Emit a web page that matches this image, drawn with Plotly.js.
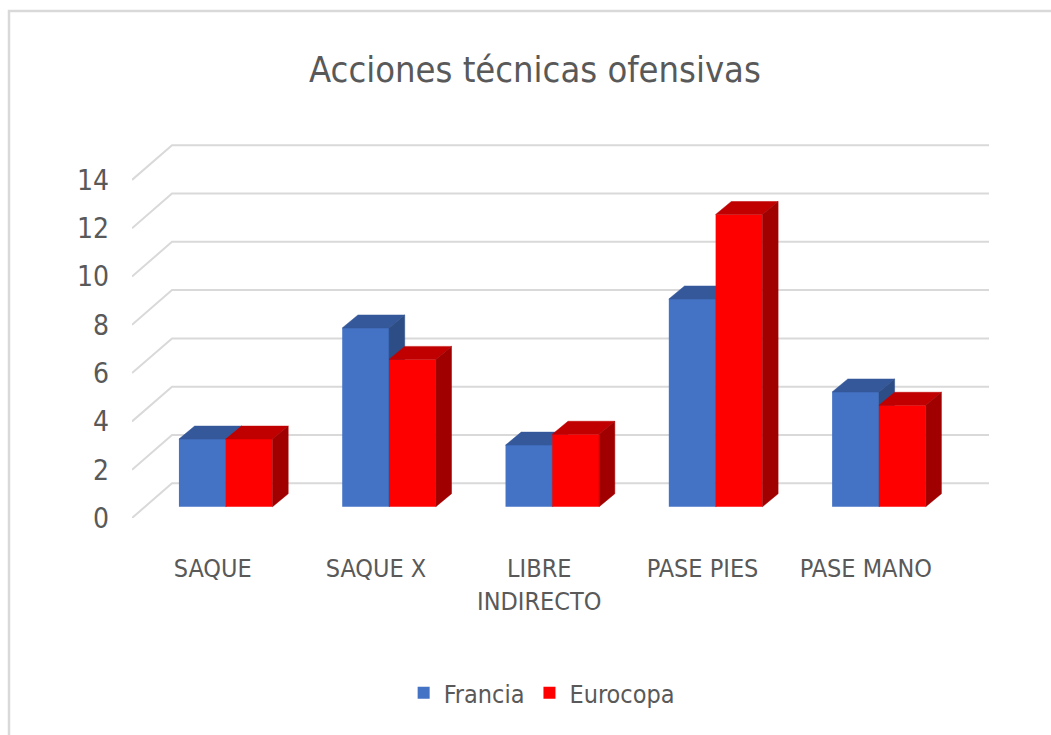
<!DOCTYPE html>
<html>
<head>
<meta charset="utf-8">
<script src="https://cdn.plot.ly/plotly-3.0.1.min.js"></script>
<style>
  body { margin: 0; background: #fff; }
  #chart { width: 1051px; height: 735px; }
</style>
</head>
<body>
<div id="chart"></div>
<script>
// data
const categories = ['SAQUE', 'SAQUE X', 'LIBRE<br>INDIRECTO', 'PASE PIES', 'PASE MANO'];
const francia = [2.8, 7.4, 2.55, 8.6, 4.75];
const eurocopa = [2.8, 6.1, 3.0, 12.1, 4.2];
const yTicks = [0, 2, 4, 6, 8, 10, 12, 14];

// fake 3D geometry (in axis units)
const BW = 0.2866;              // width of one bar front
const DX = 0.096, DY = 0.538;   // bar depth
const WALL_DX = 0.165, WALL_DY = 0.969;   // back wall offset from bar front plane
const FRONT_DX = -0.08, FRONT_DY = -0.468; // floor front edge offset
const X_RANGE = [-0.574, 4.674];
const Y_RANGE = [-0.468, 15.184];

const FONT = "'Liberation Sans Narrow', 'DejaVu Sans Condensed', 'Arial Narrow', sans-serif";
const GREY = '#595959';

const xs = categories.map((c, i) => i);

// top and side faces of a series, as polygons split by nulls
function faces(vals, offset) {
  let top = {x: [], y: []}, side = {x: [], y: []};
  vals.forEach((h, i) => {
    let xl = i + offset, xr = xl + BW;
    top.x.push(xl, xr, xr + DX, xl + DX, xl, null);
    top.y.push(h, h, h + DY, h + DY, h, null);
    side.x.push(xr, xr, xr + DX, xr + DX, xr, null);
    side.y.push(0, h, h + DY, DY, 0, null);
  });
  return {top, side};
}

function series(name, vals, offset, cols, xa, ya) {
  let f = faces(vals, offset);
  return [
    {
      type: 'bar', name: name, x: xs, y: vals, width: BW, offset: offset,
      marker: {color: cols[0], line: {width: 0}},
      xaxis: xa, yaxis: ya, hoverinfo: 'skip'
    },
    {
      type: 'scatter', mode: 'lines', x: f.top.x, y: f.top.y, fill: 'toself',
      fillcolor: cols[1], line: {color: cols[1], width: 0.5},
      showlegend: false, hoverinfo: 'skip', xaxis: xa, yaxis: ya
    },
    {
      type: 'scatter', mode: 'lines', x: f.side.x, y: f.side.y, fill: 'toself',
      fillcolor: cols[2], line: {color: cols[2], width: 0.5},
      showlegend: false, hoverinfo: 'skip', xaxis: xa, yaxis: ya
    }
  ];
}

// Eurocopa goes on an overlaid subplot so its bars sit above Francia's faces
let data = series('Francia', francia, -BW, ['#4472C4', '#34589A', '#2D4D86'], 'x', 'y')
  .concat(series('Eurocopa', eurocopa, 0, ['#FF0000', '#C00000', '#A00000'], 'x2', 'y2'));

// grid lines: diagonal on the floor side, then along the back wall
let shapes = yTicks.map(v => ({
  type: 'path', xref: 'x', yref: 'y', layer: 'below',
  path: 'M' + X_RANGE[0] + ',' + (v + FRONT_DY) +
        ' L' + (X_RANGE[0] + WALL_DX - FRONT_DX) + ',' + (v + WALL_DY) +
        ' L' + X_RANGE[1] + ',' + (v + WALL_DY),
  line: {color: '#D9D9D9', width: 2}
}));

// chart frame (left and top edges are visible)
const px = p => (p - 132) / 857;
const py = p => (518 - p) / 378;
shapes.push({
  type: 'path', xref: 'paper', yref: 'paper', layer: 'below',
  path: 'M' + px(9) + ',' + py(740) + ' L' + px(9) + ',' + py(11) + ' L' + px(1060) + ',' + py(11),
  line: {color: '#D9D9D9', width: 2.5}
});

let layout = {
  width: 1051,
  height: 735,
  margin: {l: 132, r: 62, t: 140, b: 217},
  paper_bgcolor: '#ffffff',
  plot_bgcolor: 'rgba(0,0,0,0)',
  font: {family: FONT, color: GREY},
  title: {
    text: 'Acciones técnicas ofensivas',
    font: {family: FONT, size: 36, color: GREY},
    x: 0.509, xanchor: 'center', y: 0.905, yanchor: 'middle'
  },
  barmode: 'overlay',
  showlegend: true,
  legend: {
    orientation: 'h', x: 0.478, xanchor: 'center', y: -0.463, yanchor: 'middle',
    font: {family: FONT, size: 25, color: GREY}
  },
  hovermode: false,
  xaxis: {
    range: X_RANGE, showgrid: false, zeroline: false, showline: false, ticks: '',
    tickvals: xs.map(i => i + FRONT_DX), ticktext: categories,
    tickfont: {family: FONT, size: 25, color: GREY},
    ticklabelstandoff: 33, fixedrange: true
  },
  yaxis: {
    range: Y_RANGE, showgrid: false, zeroline: false, showline: false, ticks: '',
    tickvals: yTicks.map(v => v + FRONT_DY), ticktext: yTicks.map(String),
    tickfont: {family: FONT, size: 28, color: GREY},
    ticklabelstandoff: 22, fixedrange: true
  },
  xaxis2: {range: X_RANGE, overlaying: 'x', visible: false, fixedrange: true},
  yaxis2: {range: Y_RANGE, overlaying: 'y', visible: false, fixedrange: true},
  shapes: shapes
};

Plotly.newPlot('chart', data, layout, {displayModeBar: false, staticPlot: true});
</script>
</body>
</html>
